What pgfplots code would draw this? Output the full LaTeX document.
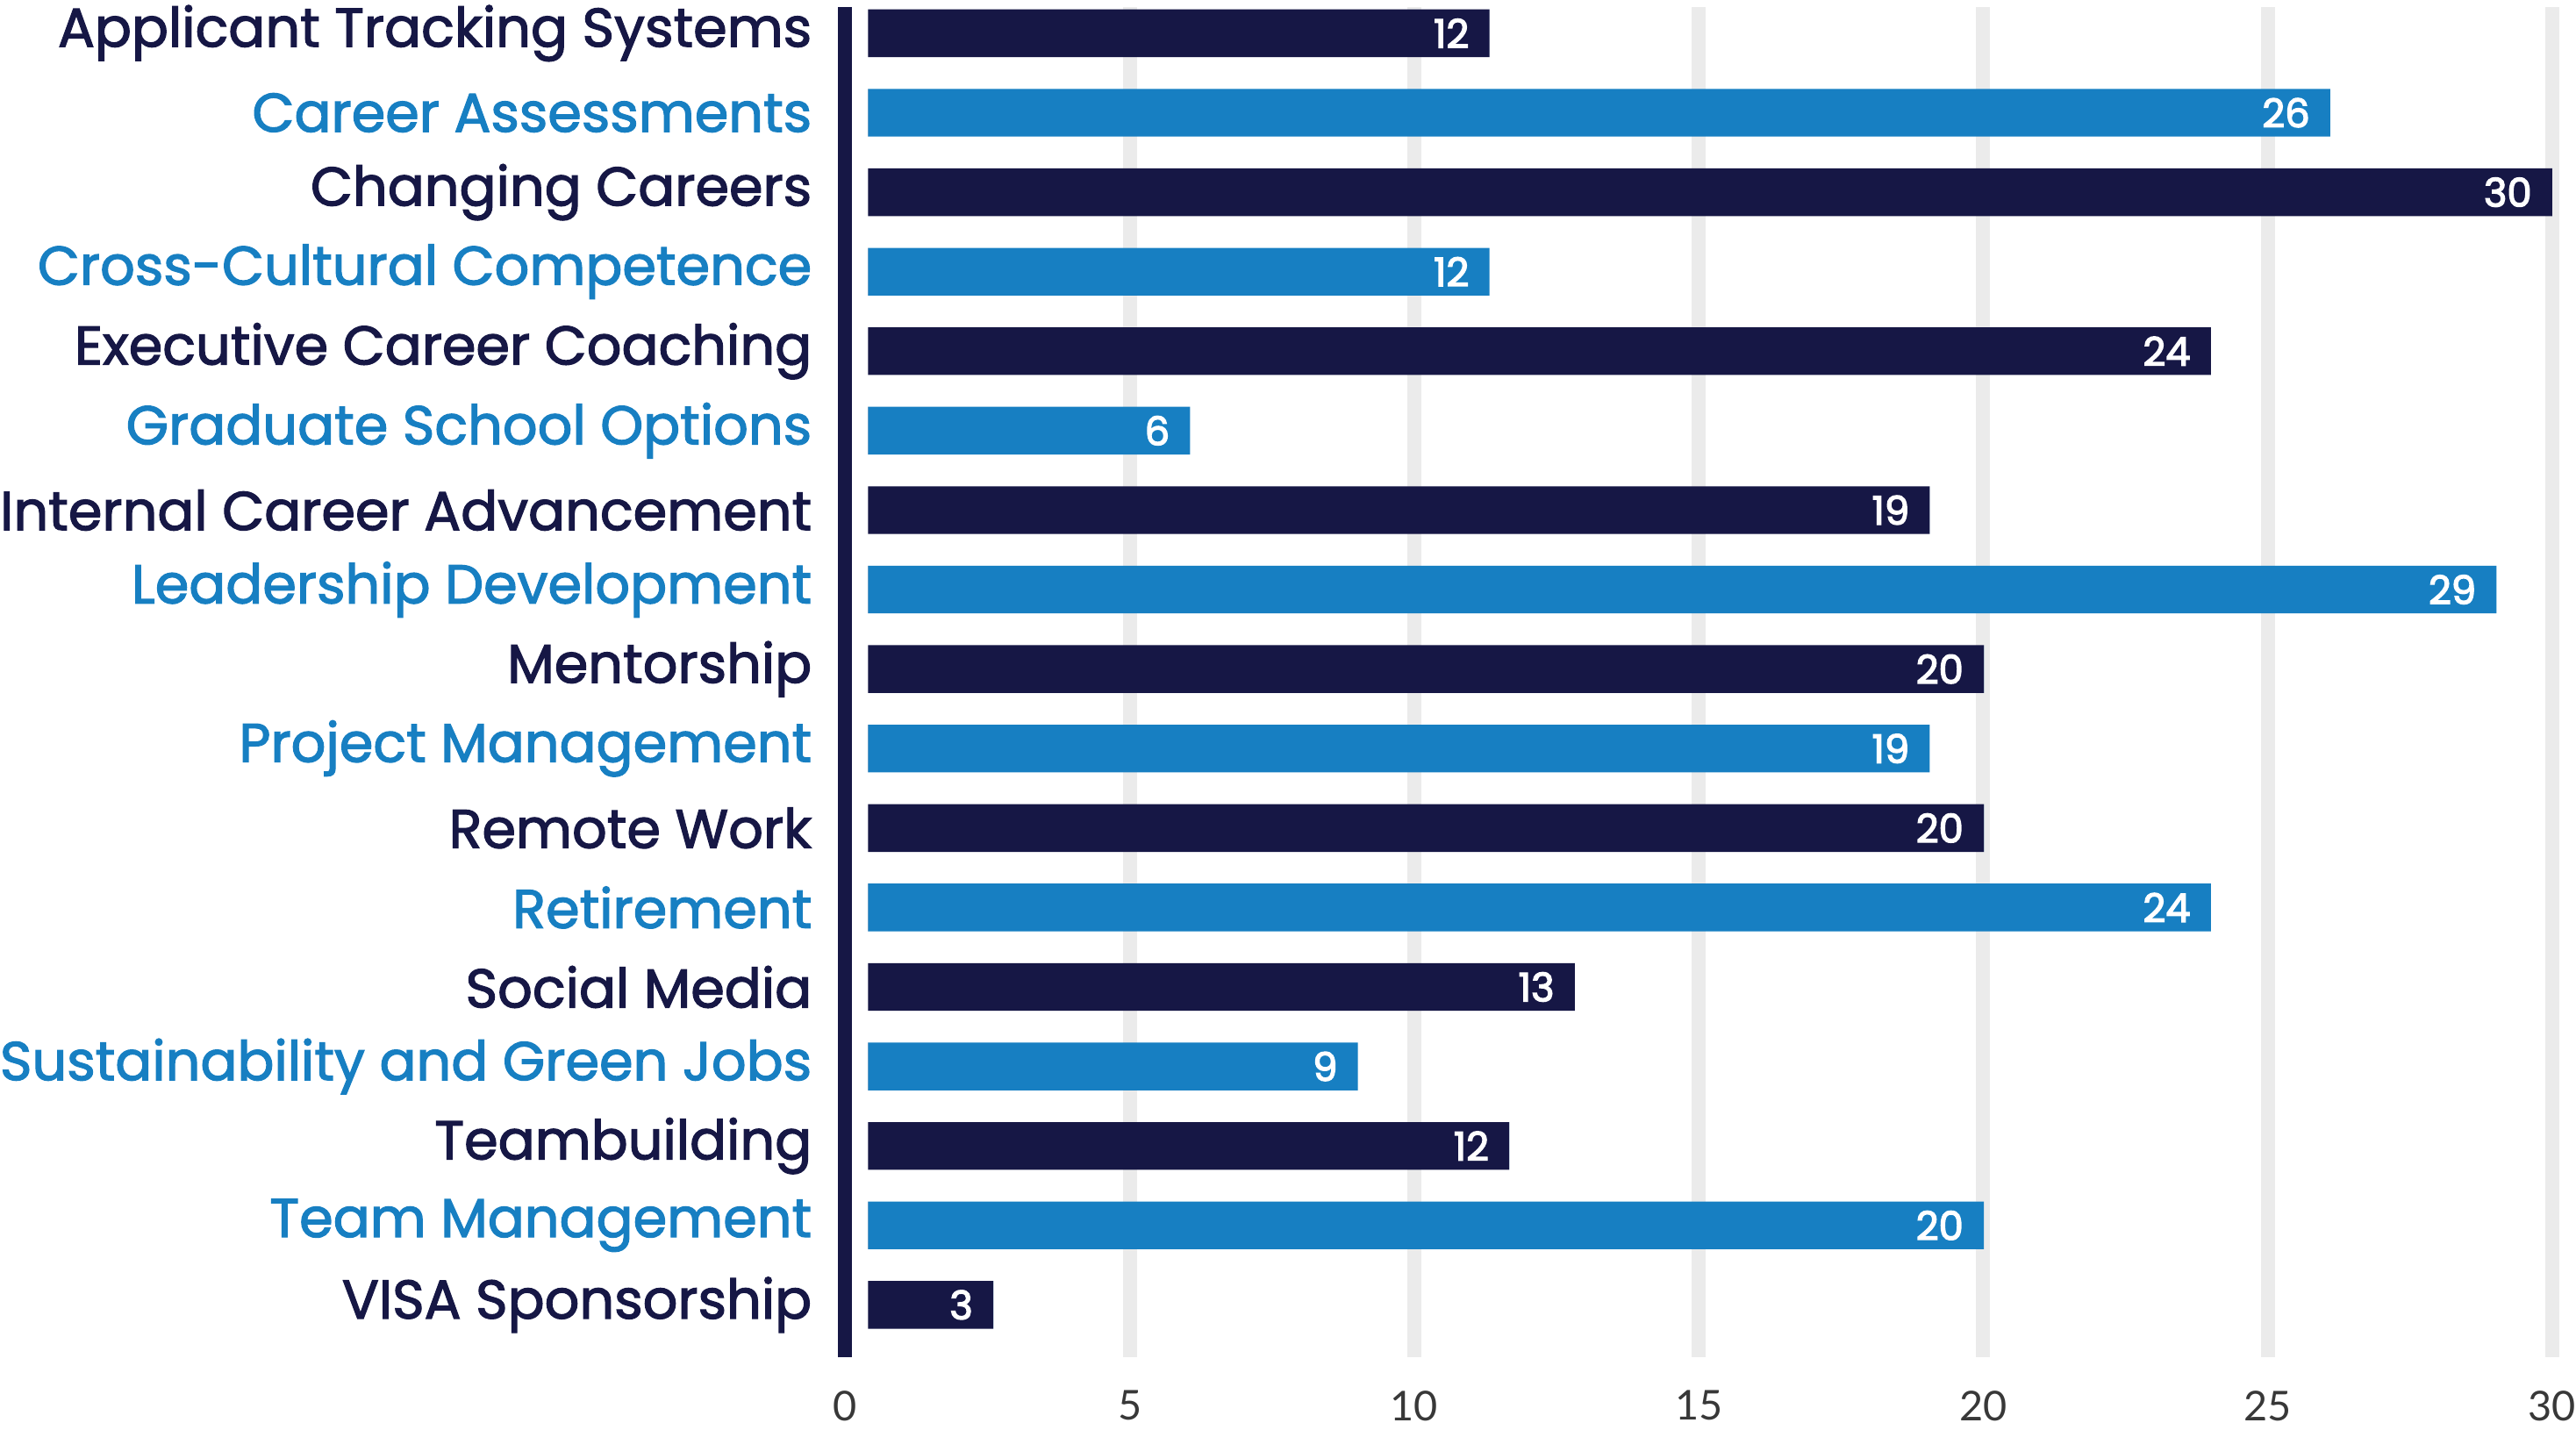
\documentclass[border=0pt]{standalone}
\usepackage{fontspec}
\setmainfont{Lato}
\newfontfamily\labelfont{Poppins}[FakeBold=2]
\newfontfamily\valuefont{Poppins}[FakeBold=3]
\usepackage{pgfplots}
\usepackage{pgfplotstable}
\pgfplotsset{compat=1.18}

\definecolor{navy}{HTML}{161745}
\definecolor{brandblue}{HTML}{177FC2}
\definecolor{gridgray}{HTML}{EBEBEB}
\definecolor{tickgray}{HTML}{383838}

% row 0 = bottom bar; gap = white space between axis line and bar start
% dark / light = bar length for the navy / blue rows, label = printed value
% tip = zero-length segment that carries the value label at the bar end
\pgfplotstableread{
row gap dark  light tip label
0   0.4 2.20  0     0   3
1   0.4 0     19.61 0   20
2   0.4 11.27 0     0   12
3   0.4 0     8.61  0   9
4   0.4 12.42 0     0   13
5   0.4 0     23.60 0   24
6   0.4 19.61 0     0   20
7   0.4 0     18.66 0   19
8   0.4 19.61 0     0   20
9   0.4 0     28.62 0   29
10  0.4 18.66 0     0   19
11  0.4 0     5.66  0   6
12  0.4 23.60 0     0   24
13  0.4 0     10.92 0   12
14  0.4 29.60 0     0   30
15  0.4 0     25.70 0   26
16  0.4 10.92 0     0   12
}\topics

\begin{document}
\begin{tikzpicture}
\begin{axis}[
  scale only axis,
  width=519.5pt, height=411pt,
  xbar stacked,
  stacked ignores zero=false,
  bar width=0.60,
  enlargelimits=false,
  clip=false,
  xmin=0, xmax=30,
  ymin=-0.66, ymax=16.33,
  axis lines*=left,
  x axis line style={draw=none},
  y axis line style={draw=navy, line width=4.3pt},
  tick style={draw=none},
  xtick={0,5,...,30},
  xmajorgrids,
  grid style={draw=gridgray, line width=4.3pt},
  ytick={0,...,16},
  yticklabels={
    \textcolor{navy}{VISA Sponsorship},
    \textcolor{brandblue}{Team Management},
    \textcolor{navy}{Teambuilding},
    \textcolor{brandblue}{Sustainability and Green Jobs},
    \textcolor{navy}{Social Media},
    \textcolor{brandblue}{Retirement},
    \textcolor{navy}{Remote Work},
    \textcolor{brandblue}{Project Management},
    \textcolor{navy}{Mentorship},
    \textcolor{brandblue}{Leadership Development},
    \textcolor{navy}{Internal Career Advancement},
    \textcolor{brandblue}{Graduate School Options},
    \textcolor{navy}{Executive Career Coaching},
    \textcolor{brandblue}{Cross-Cultural Competence},
    \textcolor{navy}{Changing Careers},
    \textcolor{brandblue}{Career Assessments},
    \textcolor{navy}{Applicant Tracking Systems}
  },
  yticklabel style={anchor=east, inner sep=0pt, xshift=-10pt,
    font=\labelfont\fontsize{16.6}{18}\selectfont},
  xticklabel style={anchor=north, inner xsep=0pt, inner ysep=2.5pt, yshift=-7.5pt,
    font=\fontsize{12.5}{14}\selectfont, text=tickgray},
  /pgf/number format/assume math mode=true,
]
\addplot[draw=none, fill=none] table[x=gap, y=row] {\topics};
\addplot[draw=none, fill=navy] table[x=dark, y=row] {\topics};
\addplot[draw=none, fill=brandblue] table[x=light, y=row] {\topics};
\addplot[draw=none, fill=none,
  nodes near coords, point meta=explicit symbolic,
  nodes near coords style={anchor=east, inner sep=0pt, xshift=-6pt,
    text=white, font=\valuefont\fontsize{12}{13}\selectfont}]
  table[x=tip, y=row, meta=label] {\topics};
\end{axis}
\end{tikzpicture}
\end{document}
